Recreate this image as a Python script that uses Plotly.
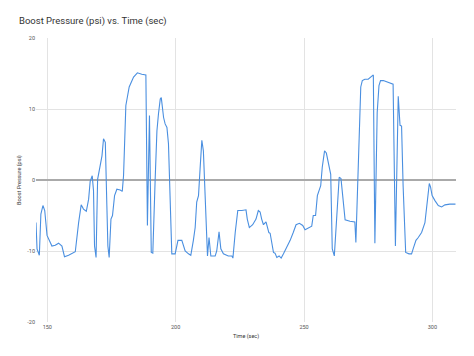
import plotly.graph_objects as go

time_sec = [145.6, 146.0, 146.9, 147.5, 148.3, 149.0, 149.9, 150.5, 151.8, 153.1,
            154.4, 155.7, 156.7, 158.3, 160.9, 162.2, 163.2, 164.1, 165.2, 166.1,
            166.7, 167.5, 168.0, 168.4, 169.0, 169.6, 170.6, 171.3, 171.9, 172.6,
            173.2, 173.6, 174.1, 174.8, 175.4, 176.2, 177.1, 178.4, 179.2, 179.7,
            180.6, 181.9, 183.6, 185.1, 186.8, 188.4, 189.0, 189.8, 190.5, 191.1,
            192.0, 192.7, 193.3, 194.0, 194.4, 195.3, 195.9, 196.6, 197.2, 197.9,
            198.5, 199.8, 200.9, 202.4, 203.7, 205.0, 205.9, 206.9, 207.6, 208.2,
            208.9, 209.5, 210.2, 210.8, 211.2, 211.8, 212.4, 213.0, 213.7, 215.4,
            216.0, 216.9, 217.6, 218.6, 220.5, 221.9, 222.3, 223.2, 224.2, 225.8,
            227.4, 227.9, 228.7, 230.0, 231.3, 232.2, 232.9, 233.5, 234.2, 235.2,
            235.7, 236.3, 236.8, 237.4, 238.1, 238.7, 239.4, 240.3, 241.1, 242.0,
            243.3, 244.6, 245.8, 246.9, 248.2, 249.5, 250.4, 251.7, 253.0, 253.6,
            254.5, 255.2, 256.5, 257.1, 258.0, 258.7, 259.5, 260.4, 261.0, 261.8,
            262.7, 263.7, 264.4, 265.3, 266.0, 267.9, 269.8, 270.2, 270.7, 271.4,
            272.1, 272.7, 273.7, 275.0, 276.0, 277.0, 277.6, 278.5, 279.2, 279.8,
            280.9, 282.8, 284.7, 285.6, 286.7, 287.4, 288.0, 288.6, 289.6, 290.9,
            291.9, 292.5, 293.6, 294.5, 295.8, 297.1, 298.0, 298.8, 299.3, 299.9,
            301.0, 302.3, 303.6, 304.9, 306.8, 309.0]

boost_psi = [-6.0, -9.7, -10.6, -4.8, -3.6, -4.3, -7.8, -8.3, -9.3, -9.2,
             -8.9, -9.3, -10.8, -10.6, -10.1, -6.0, -3.5, -4.1, -4.4, -2.7,
             -0.2, 0.6, -1.5, -9.3, -10.9, 0.1, 2.0, 3.4, 5.8, 5.3,
             -3.6, -9.3, -10.9, -5.5, -5.0, -2.2, -1.3, -1.4, -1.6, 0.6,
             10.5, 13.1, 14.5, 15.1, 14.9, 14.8, -6.4, 9.1, -10.2, -10.3,
             -0.1, 6.9, 9.3, 11.4, 11.6, 8.8, 7.9, 7.4, 5.1, -2.7,
             -10.4, -10.4, -8.5, -8.5, -10.0, -10.4, -10.6, -8.5, -6.7, -3.1,
             -2.2, 1.5, 5.6, 4.1, 0.6, -5.5, -10.7, -8.1, -10.7, -10.7,
             -10.0, -7.3, -9.7, -10.4, -10.7, -10.7, -11.0, -7.4, -4.3, -4.3,
             -4.2, -5.5, -6.7, -6.3, -5.5, -4.3, -4.5, -5.5, -6.3, -5.9,
             -6.7, -7.4, -7.5, -9.0, -10.2, -10.3, -10.9, -10.7, -11.0, -10.4,
             -9.5, -8.5, -7.4, -6.3, -6.1, -6.4, -7.0, -6.7, -6.5, -5.0,
             -5.0, -2.2, -0.8, 1.8, 4.1, 3.8, 2.5, 0.8, -9.7, -10.7,
             -5.5, 0.4, 0.2, -3.1, -5.6, -5.8, -5.9, -8.8, -2.7, 7.6,
             13.1, 14.0, 14.2, 14.2, 14.5, 14.8, -8.9, 9.5, 13.3, 14.0,
             14.0, 13.8, 13.5, -9.3, 11.8, 7.7, 7.6, -0.8, -10.2, -10.4,
             -10.4, -9.7, -8.5, -8.1, -7.4, -6.0, -3.1, -0.5, -1.0, -2.2,
             -2.9, -3.6, -3.8, -3.5, -3.4, -3.4]

x_ticks = [150, 200, 250, 300]
y_ticks = [-20, -10, 0, 10, 20]

title_text = "Boost Pressure (psi) vs. Time (sec)"
x_title = "Time (sec)"
y_title = "Boost Pressure (psi)"

# page body has an 8px default margin; figure sized to fill the rest of the window
OFF = 8
W, H = 474 - OFF, 356 - OFF
# plot area in window pixels: x 36..456, y 38..322
PL, PR, PT, PB = 36, 456, 38, 322
L, R, T, B = PL - OFF, (OFF + W) - PR, PT - OFF, (OFF + H) - PB
pw, ph = PR - PL, PB - PT


def px(x):
    return (x - PL) / pw


def py(y):
    return (PB - y) / ph


fig = go.Figure()
fig.add_trace(go.Scatter(
    x=time_sec, y=boost_psi, mode="lines",
    line=dict(color="#4a8fe0", width=1.1),
    hoverinfo="x+y", showlegend=False,
))

tick_font = dict(family="Roboto, Arial, sans-serif", size=5.5, color="#555555")

fig.update_layout(
    width=W, height=H,
    margin=dict(l=L, r=R, t=T, b=B, autoexpand=False),
    paper_bgcolor="white", plot_bgcolor="white",
    font=dict(family="Roboto, Arial, sans-serif"),
    xaxis=dict(
        range=[145.6, 309.2], tickvals=x_ticks, ticktext=[str(v) for v in x_ticks],
        showgrid=True, gridcolor="#e3e3e3", gridwidth=1,
        zeroline=False, showline=False, ticks="", tickfont=tick_font,
    ),
    yaxis=dict(
        range=[-20, 20], tickvals=y_ticks, ticktext=[str(v) for v in y_ticks],
        showgrid=True, gridcolor="#e3e3e3", gridwidth=1,
        zeroline=True, zerolinecolor="#aaaaaa", zerolinewidth=1.5,
        showline=False, ticks="", tickfont=tick_font,
    ),
    annotations=[
        dict(text=title_text, xref="paper", yref="paper",
             x=px(17), y=py(21), xanchor="left", yanchor="middle",
             showarrow=False, font=dict(size=9.5, color="#333333")),
        dict(text=x_title, xref="paper", yref="paper",
             x=px(246), y=py(336), xanchor="center", yanchor="middle",
             showarrow=False, font=dict(size=5.5, color="#333333")),
        dict(text=y_title, xref="paper", yref="paper", textangle=-90,
             x=px(19), y=py(180), xanchor="center", yanchor="middle",
             showarrow=False, font=dict(size=5.5, color="#333333")),
    ],
)

fig.write_html("out.html")
